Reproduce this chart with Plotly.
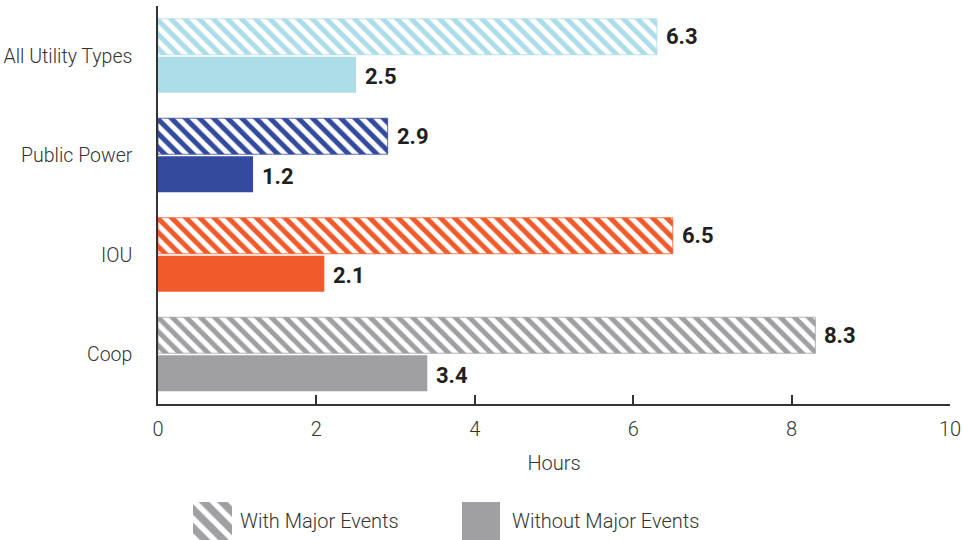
import plotly.graph_objects as go

# Average outage duration by utility type
categories = ["All Utility Types", "Public Power", "IOU", "Coop"]
with_major = [6.3, 2.9, 6.5, 8.3]
without_major = [2.5, 1.2, 2.1, 3.4]
colors = ["#ADDDE9", "#334A9D", "#F15A2B", "#A09FA2"]
x_ticks = [0, 2, 4, 6, 8, 10]
legend_labels = ["With Major Events", "Without Major Events"]
legend_color = "#A09FA2"

FONT = "Roboto, sans-serif"
TEXT = "#231F20"
LABEL = "#333333"

fig = go.Figure()

fig.add_trace(go.Bar(
    y=categories, x=with_major, orientation="h", name=legend_labels[0],
    marker=dict(
        color=colors,
        line=dict(color=colors, width=0.8),
        pattern=dict(shape="\\", fgcolor="white", bgcolor=colors,
                     size=10, solidity=0.5, fillmode="replace"),
    ),
    showlegend=False, xaxis="x", yaxis="y",
))
fig.add_trace(go.Bar(
    y=categories, x=without_major, orientation="h", name=legend_labels[1],
    marker=dict(color=colors, line=dict(width=0)),
    showlegend=False, xaxis="x", yaxis="y",
))

# Value labels placed just past each bar end
for i, cat in enumerate(categories):
    for val, shift in ((with_major[i], -20), (without_major[i], 20)):
        fig.add_annotation(
            x=val, y=i, xref="x", yref="y", text=f"<b>{val}</b>",
            showarrow=False, xanchor="left", yanchor="middle",
            xshift=7, yshift=-shift - 1,
            font=dict(family=FONT, size=22, color=TEXT, weight=700),
        )

# Legend swatches drawn as bars in a small strip below the chart
fig.add_trace(go.Bar(
    x=[54.5], y=[1], width=[39], xaxis="x2", yaxis="y2", showlegend=False,
    marker=dict(color=legend_color, line=dict(width=0),
                pattern=dict(shape="\\", fgcolor="white", bgcolor=legend_color,
                             size=13, solidity=0.42, fillmode="replace")),
    hoverinfo="skip",
))
fig.add_trace(go.Bar(
    x=[323], y=[1], width=[38], xaxis="x2", yaxis="y2", showlegend=False,
    marker=dict(color=legend_color, line=dict(width=0)), hoverinfo="skip",
))
for xpos, label in zip([80, 352], legend_labels):
    fig.add_annotation(
        x=xpos, y=0.5, xref="x2", yref="y2", text=label, showarrow=False,
        xanchor="left", yanchor="middle",
        font=dict(family=FONT, size=20, color=LABEL, weight=300),
    )

fig.update_layout(
    width=963, height=540,
    margin=dict(l=158, r=13, t=6, b=0),
    paper_bgcolor="white", plot_bgcolor="white",
    barmode="group", bargap=0.236, bargroupgap=0.053,
    font=dict(family=FONT, color=LABEL),
    xaxis=dict(
        range=[0, 10], tickvals=x_ticks, showgrid=False, zeroline=False,
        showline=True, linecolor=LABEL, linewidth=1.5,
        ticks="inside", ticklen=9, tickcolor=LABEL, tickwidth=1.5,
        tickfont=dict(family=FONT, size=20, color=LABEL, weight=300),
        ticklabelstandoff=6,
        title=dict(text="Hours", font=dict(family=FONT, size=20, color=LABEL, weight=300),
                   standoff=16),
        anchor="y", domain=[0, 1], automargin=False,
    ),
    yaxis=dict(
        categoryorder="array", categoryarray=categories, autorange="reversed",
        showgrid=False, zeroline=False, showline=True, linecolor=LABEL,
        linewidth=1.5, ticks="", ticklabelstandoff=20,
        tickfont=dict(family=FONT, size=19.5, color=LABEL, weight=300),
        domain=[0.2547, 1], anchor="x", automargin=False,
    ),
    xaxis2=dict(range=[0, 792], visible=False, domain=[0, 1], anchor="y2",
                fixedrange=True),
    yaxis2=dict(range=[0, 1], visible=False, domain=[0, 0.0712], anchor="x2",
                fixedrange=True),
)

fig.write_html("out.html")
